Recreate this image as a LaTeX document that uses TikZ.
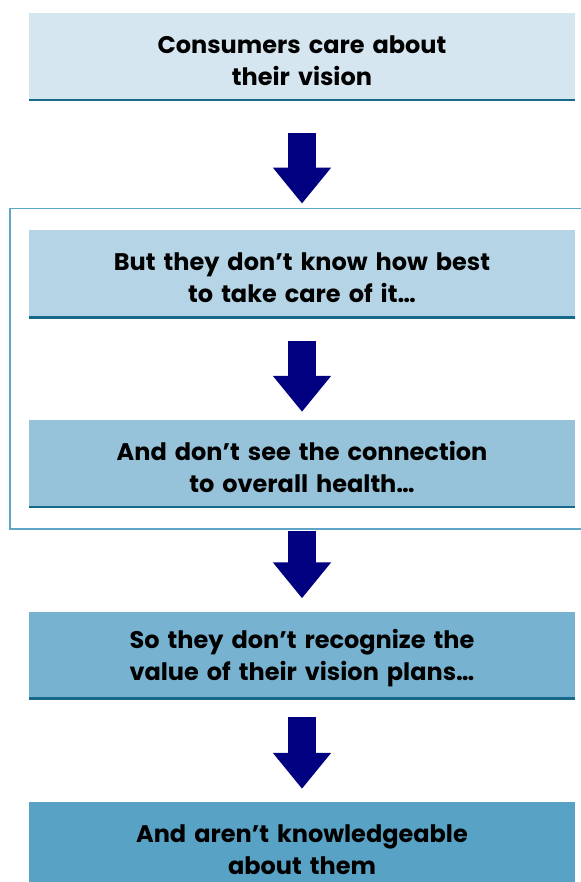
\documentclass[tikz,border=0pt]{standalone}
\usepackage{fontspec}
\setmainfont{Poppins}
\usetikzlibrary{fit, arrows.meta}
\definecolor{shadeA}{HTML}{D5E6F0}
\definecolor{shadeB}{HTML}{B5D5E7}
\definecolor{shadeC}{HTML}{96C3DA}
\definecolor{shadeD}{HTML}{77B3D0}
\definecolor{shadeE}{HTML}{58A3C5}
\definecolor{ruleblue}{HTML}{17698A}
\definecolor{frameblue}{HTML}{5FA5C6}
\definecolor{arrowblue}{HTML}{000080}

\begin{document}
\begin{tikzpicture}[x=1pt, y=-1pt,
stage/.style={rectangle, minimum width=546pt, minimum height=87pt, text width=540pt, align=center, inner sep=0pt, font=\fontsize{24}{32}\selectfont\bfseries, execute at begin node={\rule{0pt}{26pt}}},
flow/.style={line width=28pt, draw=arrowblue, -{Triangle[width=56pt, length=36pt]}}]
\tikzstyle{rule}=[line width=2.5pt, draw=ruleblue]

\useasboundingbox (0,0) rectangle (580,882);
%Boxes
\node[stage, fill=shadeA] (care) at (302,56.5) {Consumers care about\\their vision};
\node[stage, fill=shadeB] (know) at (302,274) {But they don’t know how best\\to take care of it…};
\node[stage, fill=shadeC] (health) at (302,463.5) {And don’t see the connection\\to overall health…};
\node[stage, fill=shadeD] (value) at (302,655) {So they don’t recognize the\\value of their vision plans…};
\node[stage, fill=shadeE] (aware) at (302,845.5) {And aren’t knowledgeable\\about them};
\draw[rule] (care.south west) -- (care.south east);
\draw[rule] (know.south west) -- (know.south east);
\draw[rule] (health.south west) -- (health.south east);
\draw[rule] (value.south west) -- (value.south east);
%Frame
\node[draw=frameblue, line width=1.5pt, fit=(know)(health), inner xsep=19pt, inner ysep=22pt] (frame) {};
%Arrows
\draw[flow, shorten <=33pt, shorten >=4pt] (care) -- (frame);
\draw[flow, shorten <=23pt, shorten >=8pt] (know) -- (health);
\draw[flow, shorten <=1pt, shorten >=13pt] (frame) -- (value);
\draw[flow, shorten <=18pt, shorten >=13pt] (value) -- (aware);
\end{tikzpicture}
\end{document}
